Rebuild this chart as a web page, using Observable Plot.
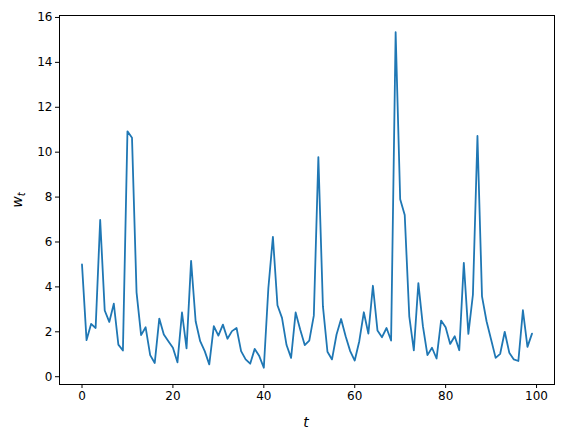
<!DOCTYPE html>
<html>
<head>
<meta charset="utf-8">
<script src="https://cdn.jsdelivr.net/npm/d3@7"></script>
<script src="https://cdn.jsdelivr.net/npm/@observablehq/plot@0.6"></script>
<style>
  html, body { margin: 0; padding: 0; background: #fff; }
  #chart svg { display: block; font-family: "DejaVu Sans", sans-serif; }
</style>
</head>
<body>
<div id="chart"></div>
<script>
const t = d3.range(0, 100);
const w = [
  5.0, 1.63, 2.35, 2.17, 6.98, 2.95, 2.44, 3.25, 1.43, 1.17,
  10.93, 10.64, 3.76, 1.85, 2.2, 0.96, 0.61, 2.59, 1.88, 1.58,
  1.29, 0.64, 2.86, 1.26, 5.16, 2.47, 1.58, 1.14, 0.55, 2.25,
  1.83, 2.32, 1.69, 2.03, 2.17, 1.14, 0.77, 0.58, 1.24, 0.92,
  0.40, 3.95, 6.23, 3.18, 2.62, 1.41, 0.84, 2.86, 2.1, 1.41,
  1.61, 2.72, 9.78, 3.14, 1.11, 0.77, 1.88, 2.57, 1.80, 1.14,
  0.72, 1.58, 2.87, 1.92, 4.05, 2.06, 1.76, 2.17, 1.61, 15.34,
  7.9, 7.2, 2.69, 1.17, 4.17, 2.25, 0.96, 1.29, 0.81, 2.5,
  2.2, 1.46, 1.80, 1.18, 5.07, 1.91, 3.65, 10.72, 3.58, 2.47,
  1.66, 0.84, 1.02, 2.0, 1.07, 0.77, 0.70, 2.96, 1.33, 1.92
];
const xTicks = [0, 20, 40, 60, 80, 100];
const yTicks = [0, 2, 4, 6, 8, 10, 12, 14, 16];

const data = t.map((ti, i) => ({t: ti, w: w[i]}));

const xPad = (d3.max(t) - d3.min(t)) * 0.05;
const yPad = (d3.max(w) - d3.min(w)) * 0.05;

const chart = Plot.plot({
  width: 564,
  height: 439,
  marginLeft: 59,
  marginRight: 10,
  marginTop: 15,
  marginBottom: 55,
  style: {fontFamily: "DejaVu Sans, sans-serif", fontSize: "12px", color: "#000", background: "#fff"},
  x: {domain: [d3.min(t) - xPad, d3.max(t) + xPad]},
  y: {domain: [d3.min(w) - yPad, d3.max(w) + yPad]},
  marks: [
    Plot.axisX({ticks: xTicks, tickSize: 4, tickPadding: 3, fontSize: 12, label: null}),
    Plot.axisY({ticks: yTicks, tickSize: 4, tickPadding: 3, fontSize: 12, label: null}),
    Plot.line(data, {x: "t", y: "w", stroke: "#1f77b4", strokeWidth: 1.8}),
    Plot.frame({stroke: "#000", strokeWidth: 1})
  ]
});

const svg = d3.select(chart);
svg.append("text")
  .attr("x", 306).attr("y", 427)
  .attr("text-anchor", "middle")
  .attr("font-size", 14)
  .attr("font-style", "italic")
  .attr("font-family", "DejaVu Sans, sans-serif")
  .attr("fill", "#000")
  .text("t");
const yl = svg.append("text")
  .attr("transform", "translate(22,200) rotate(-90)")
  .attr("text-anchor", "middle")
  .attr("font-size", 14)
  .attr("font-style", "italic")
  .attr("font-family", "DejaVu Sans, sans-serif")
  .attr("fill", "#000");
yl.append("tspan").text("w");
yl.append("tspan").attr("font-size", 10).attr("dy", 3).text("t");

document.getElementById("chart").appendChild(chart);
</script>
</body>
</html>
